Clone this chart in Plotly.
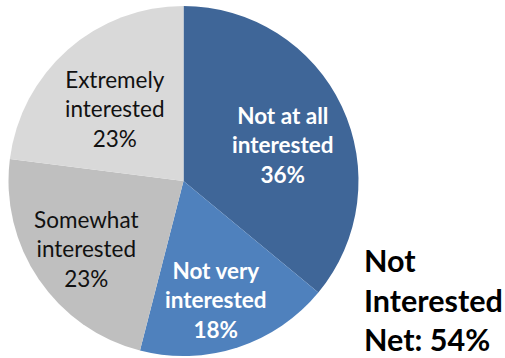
import plotly.graph_objects as go

# Data
labels = ["Not at all interested", "Not very interested", "Somewhat interested", "Extremely interested"]
label_lines = [["Not at all", "interested"], ["Not very", "interested"], ["Somewhat", "interested"], ["Extremely", "interested"]]
values = [36, 18, 23, 23]
colors = ["#3F6698", "#4F81BD", "#BFBFBF", "#D9D9D9"]
text_colors = ["#FFFFFF", "#FFFFFF", "#111111", "#111111"]
bold = [True, True, False, False]
net_label = ["Not", "Interested", "Net: 54%"]

# Layout positions for the slice labels (paper coords, x from left, y from top in px)
W, H = 505, 358
label_pos = [(283, 145), (216, 300), (86, 249), (115, 109)]

fig = go.Figure(go.Pie(
    labels=labels,
    values=values,
    sort=False,
    direction="clockwise",
    rotation=0,
    marker=dict(colors=colors, line=dict(width=0)),
    textinfo="none",
    hoverinfo="label+percent",
    domain=dict(x=[8.5 / W, 358.5 / W], y=[2 / H, 352 / H]),
    showlegend=False,
))

annotations = []
for lines, v, (px, py), tc, b in zip(label_lines, values, label_pos, text_colors, bold):
    txt = "<br>".join(lines + [f"{v}%"])
    if b:
        txt = "<b>" + txt + "</b>"
    annotations.append(dict(
        x=px / W, y=1 - py / H, xref="paper", yref="paper",
        text=txt, showarrow=False, align="center",
        xanchor="center", yanchor="middle",
        font=dict(family="Lato", size=22.5, color=tc),
    ))

annotations.append(dict(
    x=362 / W, y=1 - 299 / H, xref="paper", yref="paper",
    text="<b>" + "<br>".join(net_label) + "</b>", showarrow=False, align="left",
    xanchor="left", yanchor="middle",
    font=dict(family="Lato", size=30.5, color="#000000"),
))

fig.update_layout(
    width=W, height=H,
    margin=dict(l=0, r=0, t=0, b=0),
    paper_bgcolor="white",
    plot_bgcolor="white",
    annotations=annotations,
)

fig.write_html("out.html")
